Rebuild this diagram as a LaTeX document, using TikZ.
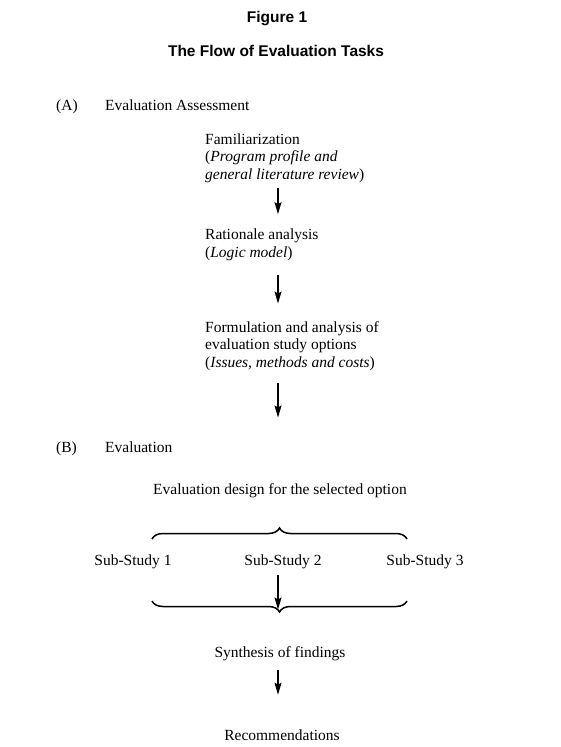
\documentclass[tikz,border=0pt]{standalone}
\usepackage{fontspec}
\setmainfont{Liberation Serif}
\newfontfamily\headfont{Liberation Sans}
\usetikzlibrary{arrows.meta, decorations.pathreplacing}

\begin{document}
\begin{tikzpicture}[x=1pt, y=-1pt, >={Stealth[length=12pt, width=7pt, inset=2pt]},
  every node/.style={font=\fontsize{15.5}{17.5}\selectfont, inner sep=0pt},
  head/.style={font=\headfont\bfseries\fontsize{15.5}{17.5}\selectfont, anchor=base},
  txt/.style={anchor=base west, align=left},
  flow/.style={->, line width=1.2pt},
  curly/.style={decorate, decoration={brace, amplitude=11pt}, line width=1.5pt}]
  \useasboundingbox (0,0) rectangle (560,747);
  \coordinate (spine) at (278,0);

  \node[head] (fig) at (277,22) {Figure 1};
  \node[head] (title) at (276,56) {The Flow of Evaluation Tasks};

  % (A)
  \node[txt] (partA) at (56,110) {(A)};
  \node[txt] (evalA) at (105,110) {Evaluation Assessment};
  \node[txt] (fam) at (205,179) {Familiarization\\(\textit{Program profile and}\\\textit{general literature review})};
  \node[txt] (rat) at (205,257) {Rationale analysis\\(\textit{Logic model})};
  \node[txt] (form) at (205,367) {Formulation and analysis of\\evaluation study options\\(\textit{Issues, methods and costs})};

  % (B)
  \node[txt] (partB) at (56,452) {(B)};
  \node[txt] (evalB) at (105,452) {Evaluation};
  \node[anchor=base] (design) at (280,494) {Evaluation design for the selected option};
  \node[anchor=base] (sub1) at (133,565) {Sub-Study 1};
  \node[anchor=base] (sub2) at (283,565) {Sub-Study 2};
  \node[anchor=base] (sub3) at (425,565) {Sub-Study 3};
  \node[anchor=base] (synth) at (280,657) {Synthesis of findings};
  \node[anchor=base] (recs) at (282,740) {Recommendations};

  % braces
  \coordinate (topL) at (152,539);
  \coordinate (topR) at (407,539);
  \coordinate (botL) at (152,601);
  \coordinate (botR) at (407,601);
  \draw[curly] (topL) -- (topR);
  \draw[curly] (botR) -- (botL);

  % arrows
  \draw[flow, shorten <=5.6pt, shorten >=14.4pt] (fam.south -| spine) -- (rat.north -| spine);
  \draw[flow, shorten <=14.6pt, shorten >=17.4pt] (rat.south -| spine) -- (form.north -| spine);
  \draw[flow, shorten <=12.6pt, shorten >=65.4pt] (form.south -| spine) -- (design.north -| spine);
  \draw[flow, shorten <=6.6pt, shorten >=36.4pt] (sub2.south -| spine) -- (synth.north -| spine);
  \draw[flow, shorten <=9.6pt, shorten >=34.4pt] (synth.south -| spine) -- (recs.north -| spine);
\end{tikzpicture}
\end{document}
